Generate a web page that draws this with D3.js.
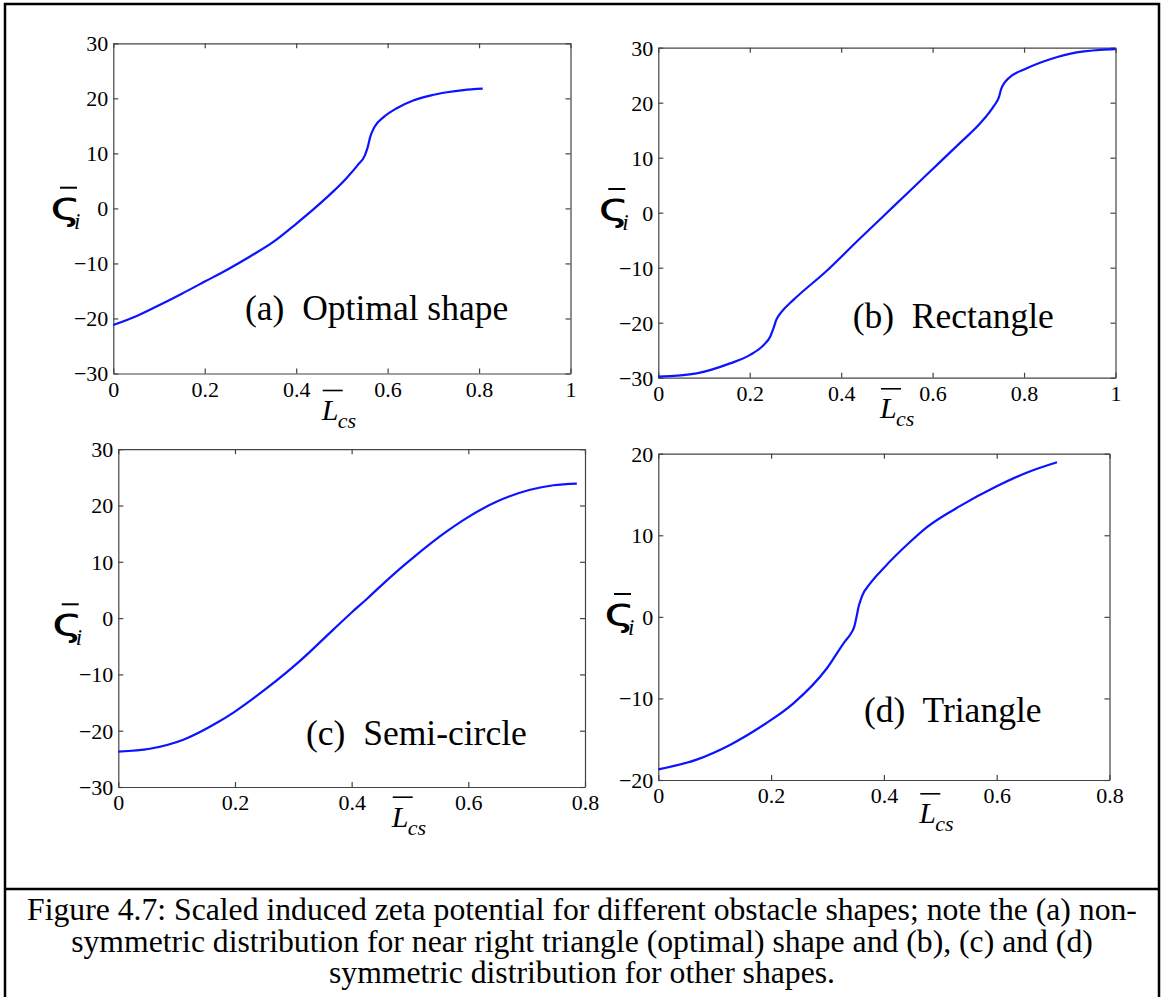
<!DOCTYPE html>
<html>
<head>
<meta charset="utf-8">
<script src="https://cdn.jsdelivr.net/npm/d3@7"></script>
<style>
body { margin: 0; background: #fff; }
</style>
</head>
<body>
<div id="fig"></div>
<script>
var SERIF = '"Liberation Serif", "Times New Roman", serif';

// tick values
var xTicksTo1 = [0, 0.2, 0.4, 0.6, 0.8, 1];
var xTicksTo08 = [0, 0.2, 0.4, 0.6, 0.8];
var yTicks30 = [-30, -20, -10, 0, 10, 20, 30];
var yTicks20 = [-20, -10, 0, 10, 20];

// (a) optimal shape
var optimalX = [0, 0.05, 0.1, 0.15, 0.2, 0.25, 0.3, 0.35, 0.4, 0.44, 0.48, 0.51, 0.535, 0.55, 0.556, 0.562, 0.572, 0.59, 0.62, 0.656, 0.693, 0.73, 0.766, 0.808];
var optimalY = [-21.2, -19.6, -17.6, -15.5, -13.3, -11.1, -8.7, -6.1, -2.8, 0.0, 3.0, 5.5, 7.9, 9.6, 11.0, 13.0, 14.9, 16.5, 18.2, 19.6, 20.5, 21.1, 21.5, 21.75];

// (b) rectangle
var rectX = [0, 0.084, 0.157, 0.2, 0.23, 0.245, 0.252, 0.258, 0.27, 0.295, 0.368, 0.441, 0.514, 0.587, 0.66, 0.704, 0.733, 0.745, 0.75, 0.757, 0.7655, 0.806, 0.857, 0.915, 1.0];
var rectY = [-29.8, -29.2, -27.4, -25.9, -24.1, -22.5, -21.0, -19.5, -18.0, -15.9, -10.6, -4.7, 1.1, 6.9, 12.7, 16.25, 19.3, 21.0, 22.5, 23.6, 24.4, 26.25, 27.9, 29.15, 29.75];

// (c) semi-circle
var semiX = [0, 0.054, 0.1115, 0.169, 0.2, 0.254, 0.3115, 0.369, 0.4, 0.426, 0.4487, 0.483, 0.506, 0.563, 0.599, 0.649, 0.706, 0.746, 0.786];
var semiY = [-23.7, -23.2, -21.6, -18.6, -16.6, -12.5, -7.6, -2.0, 1.0, 3.4, 5.6, 8.8, 10.8, 15.4, 17.9, 20.7, 22.8, 23.6, 23.9];

// (d) triangle
var triX = [0, 0.068, 0.127, 0.19, 0.2396, 0.299, 0.331, 0.341, 0.3475, 0.3515, 0.355, 0.361, 0.3757, 0.3994, 0.4467, 0.4764, 0.5355, 0.6, 0.654, 0.707];
var triY = [-18.7, -17.5, -15.7, -13.1, -10.6, -6.3, -3.0, -2.1, -1.2, 0.0, 1.2, 2.5, 4.1, 5.96, 9.2, 11.0, 13.6, 16.0, 17.7, 18.95];

var panelLabels = ["(a)  Optimal shape", "(b)  Rectangle", "(c)  Semi-circle", "(d)  Triangle"];

var captionLines = [
    "Figure 4.7: Scaled induced zeta potential for different obstacle shapes; note the (a) non-",
    "symmetric distribution for near right triangle (optimal) shape and (b), (c) and (d)",
    "symmetric distribution for other shapes."
];

var panels = [
    { xs: optimalX, ys: optimalY, xTicks: xTicksTo1, yTicks: yTicks30, label: panelLabels[0] },
    { xs: rectX, ys: rectY, xTicks: xTicksTo1, yTicks: yTicks30, label: panelLabels[1] },
    { xs: semiX, ys: semiY, xTicks: xTicksTo08, yTicks: yTicks30, label: panelLabels[2] },
    { xs: triX, ys: triY, xTicks: xTicksTo08, yTicks: yTicks20, label: panelLabels[3] }
];

// layout of each panel on the page (pixels)
var layout = [
    { left: 113.3, top: 43.3, right: 570.5, bottom: 373.5, sx: 50, oy: 187.7, lx: 321.7, ly: 420, ax: 245, ay: 320 },
    { left: 658.3, top: 47.7, right: 1115.5, bottom: 377.7, sx: 598.3, oy: 189, lx: 880, ly: 418.3, ax: 852.7, ay: 328.3 },
    { left: 118.3, top: 449.2, right: 585, bottom: 787, sx: 51.7, oy: 604.3, lx: 391.7, ly: 826.7, ax: 306, ay: 745 },
    { left: 658.3, top: 453.7, right: 1109.5, bottom: 780, sx: 604, oy: 594, lx: 919.3, ly: 823.3, ax: 864, ay: 721.7 }
];

var svg = d3.select("#fig").append("svg")
    .attr("width", 1161)
    .attr("height", 997);

svg.append("rect")
    .attr("x", 5).attr("y", 4)
    .attr("width", 1154).attr("height", 1010)
    .attr("fill", "none")
    .attr("stroke", "black")
    .attr("stroke-width", 2.5);

svg.append("line")
    .attr("x1", 5).attr("x2", 1159)
    .attr("y1", 889).attr("y2", 889)
    .attr("stroke", "black")
    .attr("stroke-width", 2.5);

function fmt(d) {
    return d < 0 ? "\u2212" + Math.abs(d) : String(d);
}

function drawPanel(p, box) {
    var x = d3.scaleLinear()
        .domain([p.xTicks[0], p.xTicks[p.xTicks.length - 1]])
        .range([box.left, box.right]);
    var y = d3.scaleLinear()
        .domain([p.yTicks[0], p.yTicks[p.yTicks.length - 1]])
        .range([box.bottom, box.top]);

    var g = svg.append("g");

    //draw the four sides with inward ticks
    g.append("g").attr("transform", "translate(0," + box.bottom + ")")
        .call(d3.axisBottom(x).tickValues(p.xTicks).tickFormat(fmt).tickSize(-5).tickSizeOuter(0).tickPadding(7.5));
    var left = g.append("g").attr("transform", "translate(" + box.left + ",0)")
        .call(d3.axisLeft(y).tickValues(p.yTicks).tickFormat(fmt).tickSize(-5).tickSizeOuter(0).tickPadding(5));
    g.append("g").attr("transform", "translate(0," + box.top + ")")
        .call(d3.axisTop(x).tickValues(p.xTicks).tickFormat("").tickSize(-5).tickSizeOuter(0));
    g.append("g").attr("transform", "translate(" + box.right + ",0)")
        .call(d3.axisRight(y).tickValues(p.yTicks).tickFormat("").tickSize(-5).tickSizeOuter(0));

    g.selectAll(".domain, .tick line").attr("stroke", "#444").attr("stroke-width", 1.2);
    g.selectAll(".tick text")
        .attr("fill", "black")
        .style("font-size", "22px")
        .style("font-family", SERIF);
    left.selectAll(".tick text").attr("dy", "0.34em");

    //draw the curve
    var pts = p.xs.map(function (v, i) { return [v, p.ys[i]]; });
    var line = d3.line()
        .x(function (d) { return x(d[0]); })
        .y(function (d) { return y(d[1]); })
        .curve(d3.curveMonotoneX);
    g.append("path")
        .datum(pts)
        .attr("d", line)
        .attr("fill", "none")
        .attr("stroke", "#0a14ff")
        .attr("stroke-width", 2.2);

    //panel label
    g.append("text")
        .attr("x", box.ax).attr("y", box.ay)
        .style("font-family", SERIF)
        .style("font-size", "35.5px")
        .style("white-space", "pre")
        .text(p.label);

    //y label: zeta bar sub i
    g.append("text")
        .attr("transform", "translate(" + box.sx + "," + (box.oy + 31) + ") scale(1.3,0.95)")
        .style("font-family", '"DejaVu Sans", sans-serif')
        .style("font-size", "41px")
        .text("\u03C2");
    g.append("line")
        .attr("x1", box.sx + 10).attr("x2", box.sx + 27)
        .attr("y1", box.oy).attr("y2", box.oy)
        .attr("stroke", "black").attr("stroke-width", 2);
    g.append("text")
        .attr("x", box.sx + 24).attr("y", box.oy + 41)
        .style("font-family", SERIF)
        .style("font-style", "italic")
        .style("font-size", "23px")
        .text("i");

    //x label: L bar sub cs
    g.append("text")
        .attr("x", box.lx).attr("y", box.ly)
        .style("font-family", SERIF)
        .style("font-style", "italic")
        .style("font-size", "30px")
        .text("L");
    g.append("line")
        .attr("x1", box.lx + 1).attr("x2", box.lx + 21)
        .attr("y1", box.ly - 29.5).attr("y2", box.ly - 29.5)
        .attr("stroke", "black").attr("stroke-width", 1.6);
    g.append("text")
        .attr("x", box.lx + 16).attr("y", box.ly + 8)
        .style("font-family", SERIF)
        .style("font-style", "italic")
        .style("font-size", "22px")
        .text("cs");
}

panels.forEach(function (p, i) { drawPanel(p, layout[i]); });

captionLines.forEach(function (t, i) {
    svg.append("text")
        .attr("x", 582)
        .attr("y", 920 + i * 31.7)
        .attr("text-anchor", "middle")
        .style("font-family", SERIF)
        .style("font-size", "31.7px")
        .text(t);
});
</script>
</body>
</html>
